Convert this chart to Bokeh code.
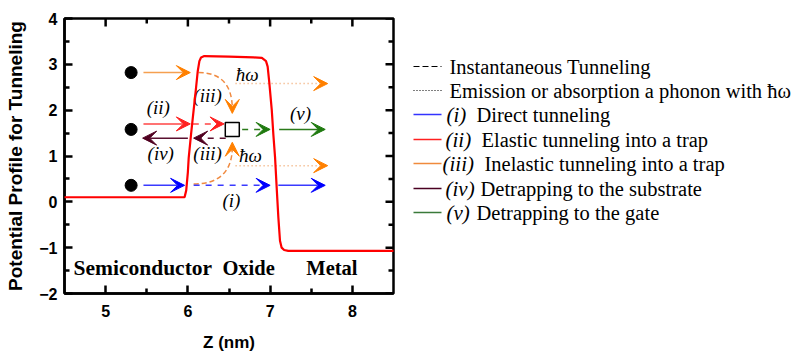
import numpy as np
from bokeh.plotting import figure
from bokeh.models import Range1d, FixedTicker, Arrow, VeeHead
from bokeh.layouts import row
from bokeh.core.properties import value
from bokeh.embed import file_html
from bokeh.resources import INLINE

# ---------------- data ----------------
# potential profile (z in nm, V)
z_nm = [4.5, 5.96, 5.98, 6.0, 6.01, 6.04, 6.07, 6.10, 6.12, 6.14, 6.16, 6.2, 6.5,
        6.8, 6.9, 6.95, 6.97, 6.99, 7.02, 7.04, 7.06, 7.08, 7.10, 7.12, 7.14,
        7.17, 7.22, 8.5]
V_pot = [0.1, 0.1, 0.25, 0.65, 0.96, 1.5, 2.0, 2.5, 2.85, 3.07, 3.15, 3.18, 3.17,
         3.15, 3.14, 3.07, 2.95, 2.6, 2.0, 1.45, 0.97, 0.3, -0.34, -0.85, -1.0,
         -1.05, -1.07, -1.07]

# electrons and trap
dot_z = [5.31, 5.31, 5.31]
dot_V = [2.82, 1.58, 0.36]
trap_z = [6.54]
trap_V = [1.58]

# straight arrows
arr_x0 = [5.46, 5.46, 6.06, 6.66, 7.11, 6.46, 6.00, 5.46, 6.07, 7.10, 6.58, 6.58]
arr_y0 = [2.82, 1.70, 1.70, 1.58, 1.58, 1.39, 1.39, 0.36, 0.36, 0.36, 2.58, 0.79]
arr_x1 = [6.03, 6.03, 6.44, 7.00, 7.67, 6.07, 5.45, 5.96, 7.00, 7.67, 7.70, 7.70]
arr_y1 = [2.82, 1.70, 1.70, 1.58, 1.58, 1.39, 1.39, 0.36, 0.36, 0.36, 2.58, 0.79]
arr_line = ["#f5a050", "#ff4444", "#ff4444", "#2a7a1a", "#2a7a1a", "#5a1030",
            "#5a1030", "#3a3aff", "#3a3aff", "#3a3aff", "#f0a468", "#f0a468"]
arr_head = ["#ff8000", "#ff2020", "#ff2020", "#1f7a0f", "#1f7a0f", "#500020",
            "#500020", "#0000ff", "#0000ff", "#0000ff", "#ff8000", "#ff8000"]
arr_dash = ["solid", "solid", "dashed", "dashed", "solid", "dashed", "solid",
            "solid", "dashed", "solid", "dotted", "dotted"]

# curved (inelastic) paths: start, control, end
crv_x0 = [6.13, 6.07]
crv_y0 = [2.82, 0.39]
crv_cx = [6.54, 6.54]
crv_cy = [2.82, 0.39]
crv_x1 = [6.54, 6.54]
crv_y1 = [2.02, 1.20]
crv_tip = [1.93, 1.30]

# labels inside the plot
lab_text = ["(ii)", "(iii)", "(v)", "(iv)", "(iii)", "(i)", "\u0127\u03c9", "\u0127\u03c9"]
lab_z = [5.64, 6.24, 7.37, 5.67, 6.24, 6.53, 6.72, 6.76]
lab_V = [2.05, 2.31, 1.92, 1.05, 1.05, 0.04, 2.77, 1.01]

reg_text = ["Semiconductor", "Oxide", "Metal"]
reg_z = [4.61, 6.42, 7.44]
reg_V = [-1.45, -1.45, -1.45]

x_major = [5, 6, 7, 8]
x_minor = [5.5, 6.5, 7.5]
y_major = [-2, -1, 0, 1, 2, 3, 4]
y_minor = [-1.5, -0.5, 0.5, 1.5, 2.5, 3.5]

# legend
leg_prefix = ["", "", "(i)", "(ii)", "(iii)", "(iv)", "(v)"]
leg_text = ["Instantaneous Tunneling", "Emission or absorption a phonon with \u0127\u03c9",
            "Direct tunneling", "Elastic tunneling into a trap",
            "Inelastic tunneling into a trap", "Detrapping to the substrate",
            "Detrapping to the gate"]
leg_col = ["black", "black", "#3333ff", "#ff2020", "#f08a3c", "#4a0022", "#3a7a3a"]
leg_dash = ["6 3", "1 2", "solid", "solid", "solid", "solid", "solid"]

SERIF = value("Liberation Serif")
X0, X1, Y0, Y1 = 4.5, 8.5, -2.0, 4.0

# ---------------- main plot ----------------
p = figure(width=400, height=356, x_range=Range1d(X0, X1), y_range=Range1d(Y0, Y1),
           toolbar_location=None, output_backend="svg",
           min_border_left=64, min_border_right=7, min_border_top=18, min_border_bottom=63)
p.grid.visible = False
p.outline_line_color = "black"
p.outline_line_width = 2.5
p.background_fill_color = "white"

xa = p.below[0]
ya = p.left[0]
xa.ticker = FixedTicker(ticks=x_major, minor_ticks=x_minor)
ya.ticker = FixedTicker(ticks=y_major, minor_ticks=y_minor)

for ax in (xa, ya):
    ax.axis_line_width = 2.5
    ax.axis_line_color = "black"
    ax.major_tick_line_color = "black"
    ax.minor_tick_line_color = "black"
    ax.major_tick_line_width = 2.5
    ax.minor_tick_line_width = 2.5
    ax.major_tick_in = 8
    ax.major_tick_out = 0
    ax.minor_tick_in = 5
    ax.minor_tick_out = 0
    ax.major_label_text_font = "Liberation Sans"
    ax.major_label_text_font_style = "bold"
    ax.major_label_text_font_size = "16px"
    ax.major_label_text_color = "black"
    ax.axis_label_text_font = "Liberation Sans"
    ax.axis_label_text_font_style = "bold"
    ax.axis_label_text_color = "black"
xa.axis_label = "Z (nm)"
ya.axis_label = "Potential Profile for Tunneling"
xa.axis_label_text_font_size = "17px"
ya.axis_label_text_font_size = "19px"
xa.major_label_standoff = 11
xa.axis_label_standoff = 13
ya.major_label_standoff = 7
ya.axis_label_standoff = 10

# inward ticks on the top and right edges (data-unit lengths ~ 8 px major, 5 px minor)
kx_maj, kx_min = 8 / 82.3, 5 / 82.3
ky_maj, ky_min = 8 / 45.8, 5 / 45.8
tick_kw = dict(line_color="black", line_width=2.5)
p.segment(x0=x_major, x1=x_major, y0=[Y1] * len(x_major),
          y1=[Y1 - ky_maj] * len(x_major), **tick_kw)
p.segment(x0=x_minor, x1=x_minor, y0=[Y1] * len(x_minor),
          y1=[Y1 - ky_min] * len(x_minor), **tick_kw)
p.segment(y0=y_major, y1=y_major, x0=[X1] * len(y_major),
          x1=[X1 - kx_maj] * len(y_major), **tick_kw)
p.segment(y0=y_minor, y1=y_minor, x0=[X1] * len(y_minor),
          x1=[X1 - kx_min] * len(y_minor), **tick_kw)

# potential profile
prof = p.line(z_nm, V_pot, line_color="#ff0000", line_width=2.2)
prof.level = "overlay"

# straight arrows
for i in range(len(arr_x0)):
    head = VeeHead(size=14, fill_color=arr_head[i], line_color=arr_head[i], line_width=1)
    p.add_layout(Arrow(end=head, x_start=arr_x0[i], y_start=arr_y0[i],
                       x_end=arr_x1[i], y_end=arr_y1[i], line_color=arr_line[i],
                       line_width=1.5, line_dash=("1 3" if arr_dash[i] == "dotted" else arr_dash[i])))

# curved dashed paths
p.quadratic(x0=crv_x0, y0=crv_y0, x1=crv_x1, y1=crv_y1, cx=crv_cx, cy=crv_cy,
            line_color="#f08a40", line_width=1.5, line_dash="5 3")
for i in range(len(crv_x1)):
    head = VeeHead(size=14, fill_color="#ff8000", line_color="#ff8000", line_width=1)
    p.add_layout(Arrow(end=head, x_start=crv_x1[i], y_start=crv_y1[i],
                       x_end=crv_x1[i], y_end=crv_tip[i], line_color="#ff8000",
                       line_width=1.5))

# electrons and trap
p.scatter(dot_z, dot_V, size=12, color="black")
p.scatter(trap_z, trap_V, marker="square", size=14, fill_color="white",
          line_color="black", line_width=1.5)

# labels
p.text(lab_z, lab_V, text=lab_text, text_font=SERIF, text_font_style="italic",
       text_font_size="19px", text_align="center", text_baseline="middle",
       text_color="black")
p.text(reg_z[:1], reg_V[:1], text=reg_text[:1], text_font=SERIF, text_font_style="bold",
       text_font_size="21.5px", text_align="left", text_baseline="middle",
       text_color="black")
p.text(reg_z[1:], reg_V[1:], text=reg_text[1:], text_font=SERIF, text_font_style="bold",
       text_font_size="20.5px", text_align="left", text_baseline="middle",
       text_color="black")

# ---------------- legend panel ----------------
# its frame is aligned with the main plot's frame (page rows 18..293)
leg = figure(width=397, height=356, x_range=Range1d(400, 797), y_range=Range1d(293, 18),
             toolbar_location=None, output_backend="svg", min_border=0,
             x_axis_type=None, y_axis_type=None)
leg.outline_line_color = None
leg.background_fill_color = "white"

row_y = [66, 90, 114, 139, 163, 188, 212]
seg_x0 = 413
seg_x1 = 441
for i in range(len(row_y)):
    leg.segment(x0=[seg_x0], x1=[seg_x1], y0=[row_y[i]], y1=[row_y[i]],
                line_color=leg_col[i], line_width=1.6 if i > 1 else 1.2,
                line_dash=leg_dash[i])

pre_x = [445, 445, 446, 445, 442, 445, 446]
txt_x = [449, 449, 476, 481, 484, 480, 476]
pre_idx = [i for i in range(len(leg_prefix)) if leg_prefix[i]]
leg.text([pre_x[i] for i in pre_idx], [row_y[i] for i in pre_idx],
         text=[leg_prefix[i] for i in pre_idx], text_font=SERIF, text_font_style="italic",
         text_font_size="21px", text_align="left", text_baseline="middle", text_color="black")
leg.text(txt_x, row_y, text=leg_text, text_font=SERIF, text_font_size="20.5px",
         text_align="left", text_baseline="middle", text_color="black")

layout = row(p, leg)
open("out.html", "w").write(file_html(layout, INLINE))
